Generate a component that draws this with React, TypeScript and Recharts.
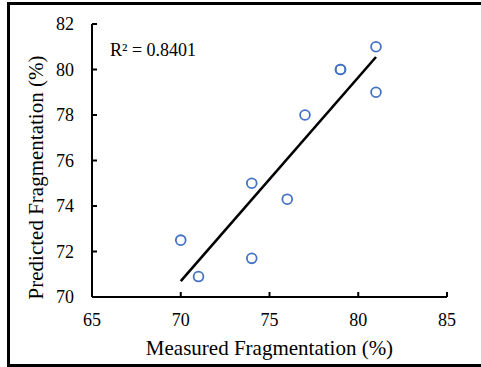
import React from 'react';
import { ScatterChart, Scatter, XAxis, YAxis, Label } from 'recharts';

const measured = [70, 71, 74, 74, 76, 77, 79, 79, 81, 81];
const predicted = [72.5, 70.9, 71.7, 75, 74.3, 78, 80, 80, 81, 79];
const trendMeasured = [70, 81];
const trendPredicted = [70.7, 80.55];
const xTicks = [65, 70, 75, 80, 85];
const yTicks = [70, 72, 74, 76, 78, 80, 82];
const xTitle = 'Measured Fragmentation (%)';
const yTitle = 'Predicted Fragmentation (%)';
const r2Text = 'R² = 0.8401';

const points = measured.map((x, i) => ({ x, y: predicted[i] }));
const trend = trendMeasured.map((x, i) => ({ x, y: trendPredicted[i] }));

const FONT = 'Liberation Serif, Times New Roman, DejaVu Serif, serif';

const Circle = (props: any) => (
  <circle cx={props.cx} cy={props.cy} r={4.9} fill="none" stroke="#4472C4" strokeWidth={1.8} />
);

const bar = (left: number, top: number, width: number, height: number): React.CSSProperties => ({
  position: 'absolute',
  left,
  top,
  width,
  height,
  background: '#000',
  pointerEvents: 'none',
});

export default function App() {
  return (
    <div style={{ position: 'absolute', left: 0, top: 0, width: 481, height: 367, overflow: 'hidden', background: '#fff', fontFamily: FONT }}>
      <ScatterChart width={481} height={367} margin={{ top: 24, right: 34, bottom: 0, left: 0 }} style={{ fontFamily: FONT }}>
        <XAxis
          type="number"
          dataKey="x"
          domain={[65, 85]}
          ticks={xTicks}
          height={70}
          tickSize={-5}
          tickMargin={21}
          axisLine={{ stroke: '#000', strokeWidth: 2 }}
          tickLine={{ stroke: '#000', strokeWidth: 2 }}
          tick={{ fill: '#000', fontSize: 18, style: { fontFamily: FONT } }}
        >
          <Label value={xTitle} position="insideBottom" offset={12} fill="#000" fontSize={21} style={{ fontFamily: FONT }} />
        </XAxis>
        <YAxis
          type="number"
          dataKey="y"
          domain={[70, 82]}
          ticks={yTicks}
          width={92}
          tickSize={-5}
          tickMargin={23}
          axisLine={{ stroke: '#000', strokeWidth: 2 }}
          tickLine={{ stroke: '#000', strokeWidth: 2 }}
          tick={{ fill: '#000', fontSize: 18, style: { fontFamily: FONT } }}
        >
          <Label
            content={() => (
              <text x={43} y={177.5} transform="rotate(-90, 43, 177.5)" textAnchor="middle" fill="#000" fontSize={21} style={{ fontFamily: FONT }}>
                {yTitle}
              </text>
            )}
          />
          <Label
            content={() => (
              <text x={110} y={56} textAnchor="start" fill="#000" fontSize={18} style={{ fontFamily: FONT }}>
                {r2Text}
              </text>
            )}
          />
        </YAxis>
        <Scatter data={trend} line={{ stroke: '#000', strokeWidth: 2.6 }} shape={() => null} isAnimationActive={false} />
        <Scatter data={points} shape={Circle} isAnimationActive={false} />
      </ScatterChart>
      <div style={bar(7, 2, 3, 365)} />
      <div style={bar(7, 2, 600, 3)} />
      <div style={bar(7, 364, 600, 3)} />
    </div>
  );
}
